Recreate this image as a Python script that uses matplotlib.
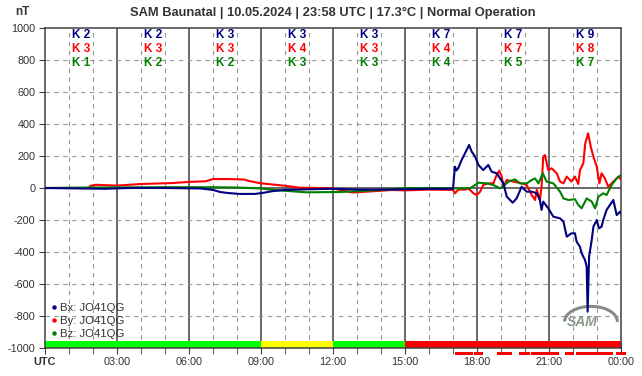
import matplotlib
matplotlib.use("Agg")
import matplotlib.pyplot as plt
from matplotlib.lines import Line2D
from matplotlib.patches import Arc
import matplotlib.transforms as mtransforms

plt.rcParams['font.family'] = ['Liberation Sans', 'DejaVu Sans']

# ---- data (hours UTC, nT) ----
bx_t = [0, 1.5, 2.5, 3.5, 5, 6.5, 7.0, 7.3, 7.6, 8.1, 8.75, 9.1, 9.5, 10, 11, 12, 13, 14, 15, 16,
        17.0, 17.08, 17.15, 17.22, 17.36, 17.50, 17.67, 17.78, 17.92, 18.06, 18.26, 18.47, 18.61,
        18.82, 18.96, 19.10, 19.24, 19.49, 19.65, 19.86, 20.07, 20.28, 20.49, 20.62, 20.69, 20.76,
        20.97, 21.18, 21.46, 21.60, 21.74, 21.94, 22.08, 22.15, 22.29, 22.36, 22.50, 22.57, 22.61,
        22.67, 22.78, 22.85, 22.99, 23.08, 23.19, 23.26, 23.40, 23.54, 23.68, 23.82, 23.96, 24.0]
bx_v = [0, -3, -5, 0, 0, -3, -12, -25, -31, -37, -37, -30, -19, -12, -8, -5, -10, -10, -8, -5,
        -5, 133, 110, 125, 175, 217, 269, 227, 196, 144, 112, 144, 102,
        92, 60, 29, -54, -92, -65, 8, -23, -23, -33, -75, -137, -85,
        -127, -179, -190, -210, -304, -283, -283, -335, -367, -408, -450, -492, -773,
        -429, -325, -242, -200, -252, -242, -200, -137, -106, -75, -169, -148, -158]

by_t = [0, 1.8, 1.9, 2.15, 3, 4, 5.3, 6.0, 6.7, 7.0, 7.6, 8.3, 8.5, 8.96, 10, 10.6, 11.5, 12,
        12.8, 13.5, 14.5, 15, 16, 17.0, 17.08, 17.22, 17.50, 17.64, 17.85, 17.99, 18.13, 18.26,
        18.47, 18.68, 18.82, 18.93, 19.03, 19.10, 19.24, 19.51, 19.86, 20.07, 20.28, 20.42, 20.49,
        20.62, 20.69, 20.76, 20.83, 20.97, 21.11, 21.32, 21.46, 21.60, 21.74, 21.94, 22.08, 22.22,
        22.29, 22.43, 22.51, 22.63, 22.74, 22.85, 22.99, 23.10, 23.19, 23.33, 23.47, 23.61, 23.75,
        23.89, 24.0]
by_v = [0, 0, 14, 20, 15, 25, 31, 38, 42, 56, 56, 53, 44, 30, 14, 2, 0, -3,
        -28, -22, -12, -15, -10, -12, -33, -10, -10, -2, -33, -44, -23, 19,
        29, 29, 81, 108, 71, 8, 50, 40, 29, 19, -44, -75, -10,
        -75, 8, 196, 206, 112, 123, 92, 40, 29, 71, 40, 71, 25,
        112, 154, 279, 342, 258, 196, 133, 29, 92, 60, 8, 29, 50,
        71, 54]

bz_t = [0, 2, 5, 7, 8, 9, 9.5, 10.9, 12.3, 13.7, 15.1, 16, 17.0, 17.71, 17.92, 18.06, 18.40,
        18.68, 18.96, 19.10, 19.31, 19.58, 19.79, 20.07, 20.28, 20.42, 20.56, 20.74, 20.90, 21.18,
        21.46, 21.60, 21.81, 22.08, 22.22, 22.36, 22.57, 22.78, 22.92, 23.06, 23.26, 23.40, 23.61,
        23.82, 24.0]
bz_v = [0, 3, 5, 5, 3, -3, -12, -27, -25, -15, 0, 0, -2, -2, 19, 33, 29,
        19, -2, 10, 40, 54, 29, 29, 50, 60, 29, 92, 40, 29,
        -23, -65, -75, -70, -106, -127, -65, -85, -127, -54, -33, -44, 19,
        60, 81]

k_x = ["K 2", "K 2", "K 3", "K 3", "K 3", "K 7", "K 7", "K 9"]
k_y = ["K 3", "K 3", "K 3", "K 4", "K 3", "K 4", "K 7", "K 8"]
k_z = ["K 1", "K 2", "K 2", "K 3", "K 3", "K 4", "K 5", "K 7"]

status_start = [0, 9, 12, 15]
status_end = [9, 12, 15, 24]
status_color = ["#00ff00", "#ffff00", "#00ff00", "#ff0000"]

alert_start = [17.08, 17.875, 18.83, 19.75, 20.25, 21.67, 22.125, 23.79]
alert_end = [17.82, 18.24, 19.45, 20.2, 21.4, 22.04, 23.65, 24.2]

xtick_pos = [0, 3, 6, 9, 12, 15, 18, 21, 24]
xtick_lab = ["UTC", "03:00", "06:00", "09:00", "12:00", "15:00", "18:00", "21:00", "00:00"]
ytick_pos = list(range(-1000, 1001, 200))

title = "SAM Baunatal | 10.05.2024 | 23:58 UTC | 17.3°C | Normal Operation"

BLUE = "#000080"
RED = "#ff0000"
GREEN = "#008000"
TXT = "#333333"

fig = plt.figure(figsize=(6.42, 3.76), dpi=100)
ax = fig.add_axes([45 / 642, 1 - 348 / 376, 576 / 642, 320 / 376])
ax.set_xlim(0, 24)
ax.set_ylim(-1000, 1000)

# grid
for h in range(1, 24):
    if h % 3 == 0:
        ax.axvline(h, color="#404040", lw=1.1, zorder=1)
    else:
        ax.axvline(h, color="#999999", lw=0.8, dashes=(4, 4), zorder=1)
for v in ytick_pos[1:-1]:
    if v == 0:
        ax.axhline(0, color="#404040", lw=1.1, zorder=1)
    else:
        ax.axhline(v, color="#999999", lw=0.8, dashes=(4, 4), zorder=1)

# status bar
for s, e, c in zip(status_start, status_end, status_color):
    ax.fill_between([s, e], -1000, -955, color=c, lw=0, zorder=2)

# alert marks below axis
trans = mtransforms.blended_transform_factory(ax.transData, ax.transAxes)
for s, e in zip(alert_start, alert_end):
    ax.fill_between([s, e], -0.022, -0.0115, transform=trans, color=RED, lw=0,
                    clip_on=False, zorder=5)

# series
ax.plot(bx_t, bx_v, color=BLUE, lw=1.5, zorder=4)
ax.plot(by_t, by_v, color=RED, lw=1.5, zorder=3)
ax.plot(bz_t, bz_v, color=GREEN, lw=1.5, zorder=3.5)

# K indices
for i in range(8):
    xc = 1.5 + 3 * i
    ax.text(xc, 0.978, k_x[i], color=BLUE, fontsize=8.5, fontweight="bold",
            ha="center", va="center", transform=trans)
    ax.text(xc, 0.934, k_y[i], color=RED, fontsize=8.5, fontweight="bold",
            ha="center", va="center", transform=trans)
    ax.text(xc, 0.892, k_z[i], color=GREEN, fontsize=8.5, fontweight="bold",
            ha="center", va="center", transform=trans)

# legend
handles = [Line2D([], [], color=c, marker="o", ls="", markersize=2.2) for c in (BLUE, RED, GREEN)]
leg = ax.legend(handles, ["Bx: JO41QG", "By: JO41QG", "Bz: JO41QG"], loc="lower left",
                bbox_to_anchor=(-0.005, 0.004), frameon=False, fontsize=8.2,
                handlelength=0.6, handletextpad=0.3, labelspacing=0.25, borderpad=0.2)
for t in leg.get_texts():
    t.set_color(TXT)

# SAM logo
ax.text(22.4, -840, "SAM", fontsize=10, fontstyle="italic", fontweight="bold",
        color="#8a9a8a", ha="center", va="center", zorder=3)
ax.add_patch(Arc((22.75, -835), 2.2, 190, theta1=-60, theta2=150, color="#888888",
                 lw=2.2, zorder=3))

# axes styling
for sp in ax.spines.values():
    sp.set_color("#404040")
    sp.set_linewidth(1.1)
ax.set_yticks(ytick_pos)
ax.set_yticklabels([str(v) for v in ytick_pos])
ax.set_xticks(xtick_pos)
ax.set_xticklabels(xtick_lab)
ax.set_xticks(range(25), minor=True)
ax.tick_params(axis="y", direction="out", length=4, color="#404040", labelsize=7.8,
               labelcolor=TXT, pad=3)
ax.tick_params(axis="x", which="both", direction="inout", length=9, color="#404040",
               labelsize=7.8, labelcolor=TXT, pad=2)
ax.get_xticklabels()[0].set_fontweight("bold")

fig.text(22 / 642, 1 - 12 / 376, "nT", fontsize=8.5, fontweight="bold", color=TXT,
         ha="center", va="center")
fig.text(333 / 642, 1 - 13 / 376, title, fontsize=9.3, fontweight="bold", color=TXT,
         ha="center", va="center")

fig.savefig("out.png", dpi=100)
